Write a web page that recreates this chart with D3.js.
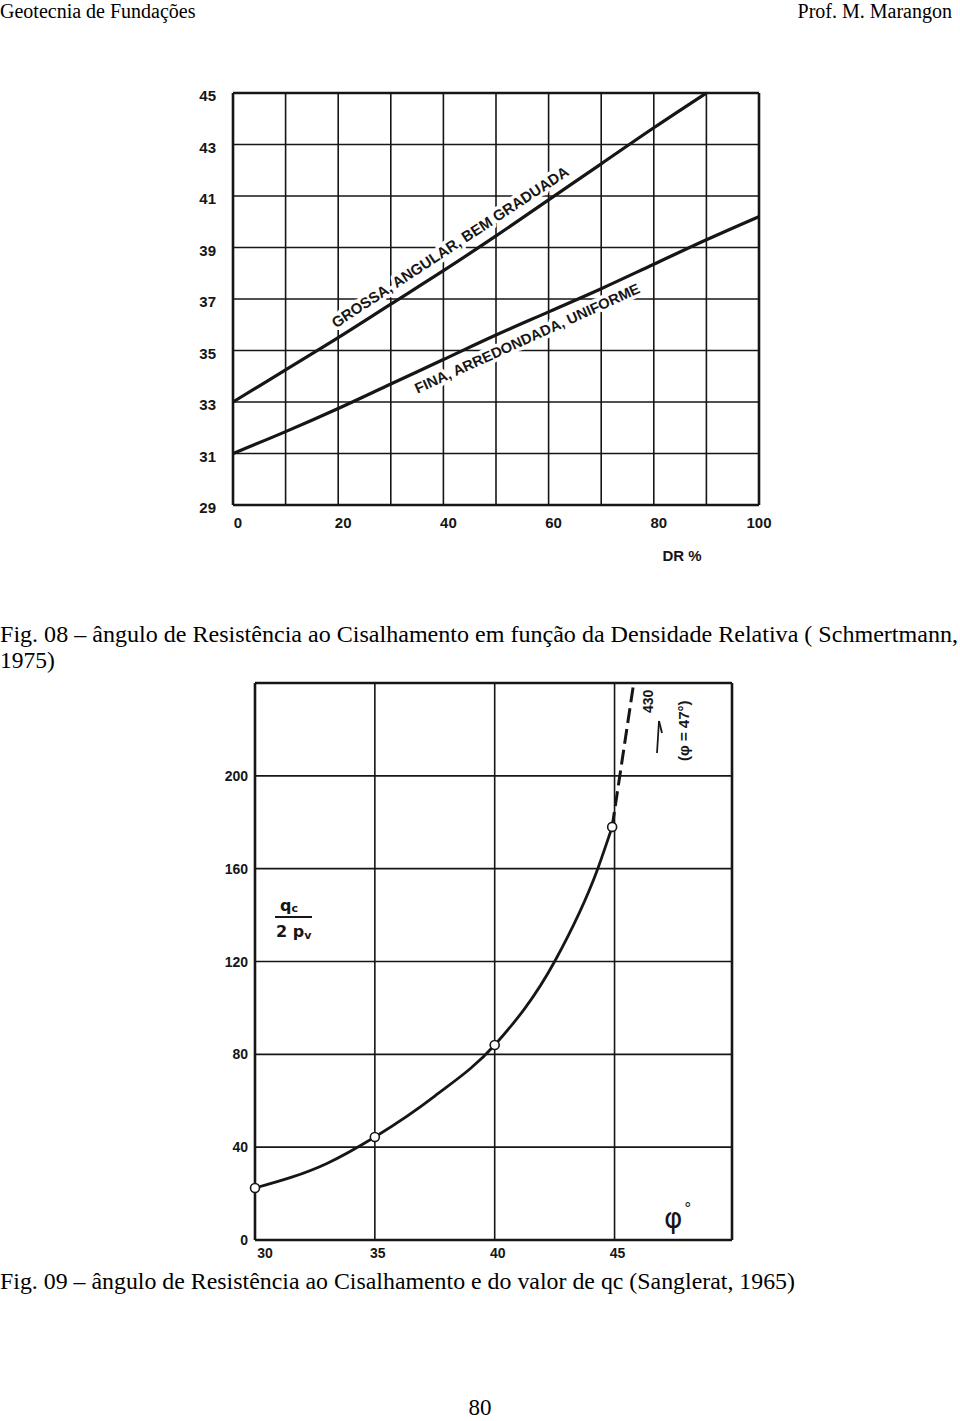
<!DOCTYPE html>
<html><head><meta charset="utf-8">
<script src="https://cdn.jsdelivr.net/npm/d3@7"></script>
<style>body{margin:0;background:#fff}</style>
</head><body><svg id="c" width="960" height="1421"></svg>
<script>
// ---------- Data ----------
const drTicks = [0, 20, 40, 60, 80, 100];
const drGrid = [0,10,20,30,40,50,60,70,80,90,100];
const phiTicks = [29, 31, 33, 35, 37, 39, 41, 43, 45];
const grossaDR  = [0,10,20,30,40,50,60,70,80,90];
const grossaPhi = [33.0,34.25,35.5,36.8,38.1,39.45,40.85,42.25,43.65,45.0];
const finaDR  = [0,10,20,30,40,50,60,70,80,90,100];
const finaPhi = [31.0,31.85,32.75,33.7,34.65,35.6,36.5,37.4,38.35,39.3,40.2];
const grossaLabel = "GROSSA, ANGULAR, BEM GRADUADA";
const finaLabel = "FINA, ARREDONDADA, UNIFORME";

const phi2Ticks = [30, 35, 40, 45];
const ratioTicks = [0, 40, 80, 120, 160, 200];
const curvePhi   = [30, 33, 35, 37.5, 40, 42.5, 44.3, 44.9];
const curveRatio = [22.4, 33, 44.4, 62, 84, 120, 160, 178];
const pointPhi   = [30, 35, 40, 44.9];
const pointRatio = [22.4, 44.4, 84, 178];
const dashPhi    = [44.9, 45.8];
const dashRatio  = [178, 240];

const svg = d3.select("#c");
svg.append("rect").attr("width",960).attr("height",1421).attr("fill","#fff");
const ink = "#161616";
const serif = "'Liberation Serif','Times New Roman',serif";
const sansB = "'Liberation Sans',Arial,sans-serif";

// ---------- Page texts ----------
svg.append("text").attr("x",0).attr("y",18).attr("font-family",serif).attr("font-size",20).attr("fill","#000").text("Geotecnia de Fundações");
svg.append("text").attr("x",952).attr("y",18).attr("text-anchor","end").attr("font-family",serif).attr("font-size",20).attr("fill","#000").text("Prof. M. Marangon");
svg.append("text").attr("x",0).attr("y",642).attr("font-family",serif).attr("font-size",23.5).attr("fill","#000")
  .attr("textLength",958).attr("lengthAdjust","spacingAndGlyphs")
  .text("Fig. 08 – ângulo de Resistência ao Cisalhamento em função da Densidade Relativa ( Schmertmann,");
svg.append("text").attr("x",0).attr("y",668).attr("font-family",serif).attr("font-size",23.5).attr("fill","#000").text("1975)");
svg.append("text").attr("x",0).attr("y",1289).attr("font-family",serif).attr("font-size",23.5).attr("fill","#000")
  .attr("textLength",795).attr("lengthAdjust","spacingAndGlyphs")
  .text("Fig. 09 – ângulo de Resistência ao Cisalhamento e do valor de qc (Sanglerat, 1965)");
svg.append("text").attr("x",480).attr("y",1415).attr("text-anchor","middle").attr("font-family",serif).attr("font-size",23).attr("fill","#000").text("80");

// ---------- Chart 1 ----------
const x1 = d3.scaleLinear().domain([0,100]).range([233,759]);
const y1 = d3.scaleLinear().domain([29,45]).range([505,93]);
const g1 = svg.append("g");
g1.selectAll("line.v").data(drGrid).join("line")
  .attr("x1",d=>x1(d)).attr("x2",d=>x1(d)).attr("y1",y1(45)).attr("y2",y1(29))
  .attr("stroke",ink).attr("stroke-width",d=>(d===0||d===100)?2.6:1.6);
g1.selectAll("line.h").data(phiTicks).join("line")
  .attr("y1",d=>y1(d)).attr("y2",d=>y1(d)).attr("x1",x1(0)).attr("x2",x1(100))
  .attr("stroke",ink).attr("stroke-width",d=>(d===29||d===45)?2.6:1.6);
g1.selectAll("text.yt").data(phiTicks).join("text")
  .attr("x",216).attr("y",d=>y1(d)+8).attr("text-anchor","end")
  .attr("font-family",sansB).attr("font-weight","bold").attr("font-size",15).attr("fill",ink).text(d=>d);
g1.selectAll("text.xt").data(drTicks).join("text")
  .attr("x",d=>x1(d)+(d===100?0:5)).attr("y",528).attr("text-anchor","middle")
  .attr("font-family",sansB).attr("font-weight","bold").attr("font-size",15).attr("fill",ink).text(d=>d);
g1.append("text").attr("x",682).attr("y",561).attr("text-anchor","middle")
  .attr("font-family",sansB).attr("font-weight","bold").attr("font-size",15).attr("fill",ink).text("DR %");

function placeLabel(drArr, phiArr, dStart, dEnd, off, txt, size){
  const f = d3.scaleLinear().domain(drArr).range(phiArr);
  const xa = x1(dStart), ya = y1(f(dStart)), xb = x1(dEnd), yb = y1(f(dEnd));
  const ang = Math.atan2(yb-ya, xb-xa)*180/Math.PI;
  const len = Math.hypot(xb-xa, yb-ya);
  g1.append("text").attr("transform",`translate(${xa},${ya}) rotate(${ang})`)
    .attr("x",0).attr("y",off).attr("font-family",sansB).attr("font-weight","bold")
    .attr("font-size",size).attr("fill",ink)
    .attr("stroke","#fff").attr("stroke-width",7).attr("stroke-linejoin","round").attr("paint-order","stroke")
    .attr("textLength",len).attr("lengthAdjust","spacingAndGlyphs").text(txt);
}
placeLabel(grossaDR, grossaPhi, 20.5, 65, -9, grossaLabel, 15);
placeLabel(finaDR, finaPhi, 33.5, 76, 20, finaLabel, 14.5);

const line1 = d3.line().x(d=>x1(d[0])).y(d=>y1(d[1])).curve(d3.curveMonotoneX);
g1.append("path").datum(grossaDR.map((d,i)=>[d,grossaPhi[i]])).attr("d",line1)
  .attr("fill","none").attr("stroke",ink).attr("stroke-width",3.2);
g1.append("path").datum(finaDR.map((d,i)=>[d,finaPhi[i]])).attr("d",line1)
  .attr("fill","none").attr("stroke",ink).attr("stroke-width",3.2);

// ---------- Chart 2 ----------
const x2 = d3.scaleLinear().domain([30,49.9]).range([255,732]);
const y2 = d3.scaleLinear().domain([0,240]).range([1240,683]);
const g2 = svg.append("g");
const vLines2 = [30,35,40,45,49.9];
const hLines2 = [0,40,80,120,160,200,240];
g2.selectAll("line.v").data(vLines2).join("line")
  .attr("x1",d=>x2(d)).attr("x2",d=>x2(d)).attr("y1",y2(240)).attr("y2",y2(0))
  .attr("stroke",ink).attr("stroke-width",d=>(d===30||d===49.9)?2.6:1.6);
g2.selectAll("line.h").data(hLines2).join("line")
  .attr("y1",d=>y2(d)).attr("y2",d=>y2(d)).attr("x1",x2(30)).attr("x2",x2(49.9))
  .attr("stroke",ink).attr("stroke-width",d=>(d===0||d===240)?2.6:1.6);
g2.selectAll("text.yt").data(ratioTicks).join("text")
  .attr("x",248).attr("y",d=>y2(d)+5).attr("text-anchor","end")
  .attr("font-family",sansB).attr("font-weight","bold").attr("font-size",14).attr("fill",ink).text(d=>d);
g2.selectAll("text.xt").data(phi2Ticks).join("text")
  .attr("x",d=>x2(d)+(d===30?10:3)).attr("y",1258).attr("text-anchor","middle")
  .attr("font-family",sansB).attr("font-weight","bold").attr("font-size",14).attr("fill",ink).text(d=>d);

const line2 = d3.line().x(d=>x2(d[0])).y(d=>y2(d[1])).curve(d3.curveMonotoneX);
g2.append("path").datum(curvePhi.map((d,i)=>[d,curveRatio[i]])).attr("d",line2)
  .attr("fill","none").attr("stroke",ink).attr("stroke-width",2.8);
g2.append("path").datum(dashPhi.map((d,i)=>[d,dashRatio[i]])).attr("d",d3.line().x(d=>x2(d[0])).y(d=>y2(d[1])))
  .attr("fill","none").attr("stroke",ink).attr("stroke-width",3).attr("stroke-dasharray","15,6");
g2.selectAll("circle").data(pointPhi.map((d,i)=>[d,pointRatio[i]])).join("circle")
  .attr("cx",d=>x2(d[0])).attr("cy",d=>y2(d[1])).attr("r",4.5)
  .attr("fill","#fff").attr("stroke",ink).attr("stroke-width",1.6);

// y label q_c / 2p_v
const lab = g2.append("g").attr("font-family","'DejaVu Sans',sans-serif").attr("font-weight","bold").attr("fill",ink);
const t1 = lab.append("text").attr("x",280).attr("y",911).attr("font-size",16);
t1.append("tspan").text("q");
t1.append("tspan").attr("font-size",11).attr("dy",1).text("c");
lab.append("line").attr("x1",275).attr("x2",312).attr("y1",917).attr("y2",917).attr("stroke",ink).attr("stroke-width",2);
const t2 = lab.append("text").attr("x",276).attr("y",937).attr("font-size",16);
t2.append("tspan").text("2 p");
t2.append("tspan").attr("font-size",11).attr("dy",2).text("v");

// annotations (rotated, reading bottom to top)
g2.append("text").attr("transform","translate(653,713) rotate(-90)")
  .attr("font-family",sansB).attr("font-weight","bold").attr("font-size",14).attr("fill",ink).text("430");
g2.append("line").attr("x1",657).attr("y1",753).attr("x2",659).attr("y2",721).attr("stroke",ink).attr("stroke-width",1.8);
g2.append("line").attr("x1",659).attr("y1",721).attr("x2",662).attr("y2",733).attr("stroke",ink).attr("stroke-width",1.8);
g2.append("text").attr("transform","translate(689,761) rotate(-90)")
  .attr("font-family",sansB).attr("font-weight","bold").attr("font-size",15).attr("fill",ink).text("(φ = 47°)");
g2.append("text").attr("x",664).attr("y",1228).attr("font-family","'DejaVu Sans',sans-serif")
  .attr("font-size",28).attr("fill",ink).text("φ");
g2.append("text").attr("x",684).attr("y",1214).attr("font-family","'DejaVu Sans',sans-serif")
  .attr("font-size",15).attr("fill",ink).text("°");
</script></body></html>
